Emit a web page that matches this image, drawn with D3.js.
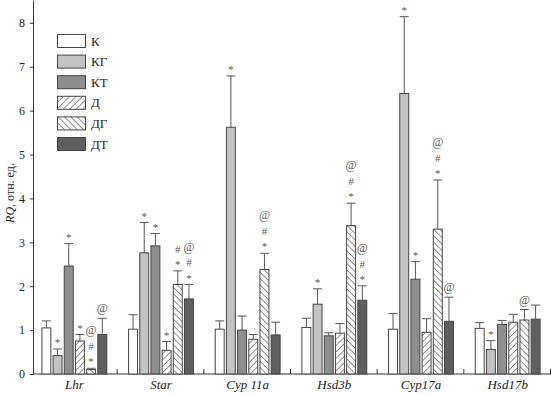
<!DOCTYPE html>
<html>
<head>
<meta charset="utf-8">
<script src="https://cdn.jsdelivr.net/npm/d3@7"></script>
<style>
  body { margin: 0; background: #fff; }
  svg { display: block; }
</style>
</head>
<body>
<div id="chart"></div>
<script>
// genes on the x axis and experimental groups
const genes = ["Lhr", "Star", "Cyp 11a", "Hsd3b", "Cyp17a", "Hsd17b"];
const groups = ["К", "КГ", "КТ", "Д", "ДГ", "ДТ"];

// mean RQ per group (one value per gene)
const valK  = [1.05, 1.02, 1.02, 1.06, 1.02, 1.04];
const valKG = [0.42, 2.76, 5.62, 1.59, 6.39, 0.56];
const valKT = [2.46, 2.92, 1.00, 0.87, 2.16, 1.13];
const valD  = [0.75, 0.54, 0.79, 0.93, 0.95, 1.18];
const valDG = [0.10, 2.04, 2.38, 3.38, 3.30, 1.23];
const valDT = [0.90, 1.71, 0.89, 1.68, 1.20, 1.25];

// upper error (SEM)
const errK  = [0.16, 0.33, 0.19, 0.21, 0.36, 0.13];
const errKG = [0.15, 0.69, 1.17, 0.35, 1.75, 0.20];
const errKT = [0.51, 0.28, 0.32, 0.07, 0.40, 0.09];
const errD  = [0.15, 0.20, 0.11, 0.22, 0.31, 0.18];
const errDG = [0.03, 0.31, 0.37, 0.51, 1.12, 0.24];
const errDT = [0.37, 0.33, 0.29, 0.33, 0.55, 0.32];

// significance marks, bottom to top
const sigK  = ["", "", "", "", "", ""];
const sigKG = ["*", "*", "*", "*", "*", "*"];
const sigKT = ["*", "*", "", "", "*", ""];
const sigD  = ["*", "*", "", "", "", ""];
const sigDG = ["*#@", "*#", "*#@", "*#@", "*#@", "@"];
const sigDT = ["@", "*#@", "", "*#@", "@", ""];

const yTicks = [0, 1, 2, 3, 4, 5, 6, 7, 8];

const values = [valK, valKG, valKT, valD, valDG, valDT];
const errors = [errK, errKG, errKT, errD, errDG, errDT];
const sigs = [sigK, sigKG, sigKT, sigD, sigDG, sigDT];

const width = 551;
const height = 394;
const fills = ["#ffffff", "#c3c3c3", "#8e8e8e", "url(#hatchF)", "url(#hatchB)", "#5f5f5f"];
const serif = "'Liberation Serif', 'DejaVu Serif', serif";

// flatten into one record per bar
const bars = [];
genes.forEach((g, gi) => {
  groups.forEach((grp, k) => {
    bars.push({ gene: g, group: grp, k: k, value: values[k][gi], err: errors[k][gi], sig: sigs[k][gi] });
  });
});

const svg = d3.select("#chart")
  .append("svg")
  .attr("width", width)
  .attr("height", height)
  .style("font-family", serif);

// hatch patterns
const defs = svg.append("defs");
[["hatchF", 45], ["hatchB", -45]].forEach(([id, angle]) => {
  const p = defs.append("pattern")
    .attr("id", id)
    .attr("patternUnits", "userSpaceOnUse")
    .attr("width", 4.5)
    .attr("height", 4.5)
    .attr("patternTransform", `rotate(${angle})`);
  p.append("rect").attr("width", 4.5).attr("height", 4.5).attr("fill", "#fff");
  p.append("line")
    .attr("x1", 0).attr("y1", 0).attr("x2", 0).attr("y2", 4.5)
    .attr("stroke", "#333").attr("stroke-width", 1.1);
});

// scales
const x0 = d3.scaleBand().domain(genes).range([31, 551]);
const x1 = d3.scaleBand().domain(groups).range([0, x0.bandwidth()])
  .paddingInner(0.11).paddingOuter(0.93);
const y = d3.scaleLinear().domain([0, 8.52]).range([374, 0]);

// y axis
const yAxis = svg.append("g")
  .attr("transform", "translate(33,0)")
  .call(d3.axisLeft(y).tickValues(yTicks).tickSize(3).tickSizeOuter(0).tickFormat(d3.format("d")));
yAxis.select(".domain").attr("stroke", "#333");
yAxis.selectAll(".tick line").attr("stroke", "#333");
yAxis.selectAll(".tick text")
  .attr("font-family", serif)
  .attr("font-size", 12)
  .attr("fill", "#222")
  .attr("x", -8);

// x baseline and group separators
svg.append("line")
  .attr("x1", 33).attr("x2", width)
  .attr("y1", y(0)).attr("y2", y(0))
  .attr("stroke", "#333");
svg.selectAll(".sep")
  .data(genes.slice(1).concat(["end"]))
  .enter()
  .append("line")
  .attr("x1", (d, i) => x0.range()[0] + (i + 1) * x0.step() - 0.5)
  .attr("x2", (d, i) => x0.range()[0] + (i + 1) * x0.step() - 0.5)
  .attr("y1", y(0)).attr("y2", y(0) - 5)
  .attr("stroke", "#333");

// gene labels
svg.selectAll(".gene")
  .data(genes)
  .enter()
  .append("text")
  .attr("x", d => x0(d) + x0.bandwidth() / 2)
  .attr("y", 389)
  .attr("text-anchor", "middle")
  .attr("font-size", 13)
  .attr("font-style", "italic")
  .attr("fill", "#222")
  .text(d => d);

// bars
const barG = svg.append("g");
barG.selectAll("rect")
  .data(bars)
  .enter()
  .append("rect")
  .attr("x", d => x0(d.gene) + x1(d.group) + 0.5)
  .attr("y", d => y(d.value))
  .attr("width", x1.bandwidth() - 1)
  .attr("height", d => y(0) - y(d.value))
  .attr("fill", d => fills[d.k])
  .attr("stroke", "#444")
  .attr("stroke-width", 1);

// error bars
const errG = svg.append("g").attr("stroke", "#555").attr("stroke-width", 1);
bars.forEach(d => {
  const cx = x0(d.gene) + x1(d.group) + x1.bandwidth() / 2;
  const top = y(d.value + d.err);
  errG.append("line")
    .attr("x1", cx).attr("x2", cx)
    .attr("y1", y(d.value)).attr("y2", top);
  errG.append("line")
    .attr("x1", cx - x1.bandwidth() / 2 + 0.5).attr("x2", cx + x1.bandwidth() / 2 - 0.5)
    .attr("y1", top).attr("y2", top);
});

// significance marks stacked above the error bar
const gap = { "*": 11, "#": 12, "@": 16 };
bars.filter(d => d.sig).forEach(d => {
  const cx = x0(d.gene) + x1(d.group) + x1.bandwidth() / 2;
  let pos = y(d.value + d.err);
  d.sig.split("").forEach((s, i) => {
    pos -= (i === 0 ? 10 : gap[s]);
    svg.append("text")
      .attr("x", cx)
      .attr("y", pos)
      .attr("dy", s === "*" ? "0.65em" : "0.35em")
      .attr("text-anchor", "middle")
      .attr("font-size", s === "@" ? 12 : 11)
      .attr("fill", "#555")
      .text(s);
  });
});

// y label
const yLab = svg.append("text")
  .attr("transform", "translate(14,193) rotate(-90)")
  .attr("text-anchor", "middle")
  .attr("font-size", 12)
  .attr("fill", "#222");
yLab.append("tspan").attr("font-style", "italic").text("RQ");
yLab.append("tspan").text(", отн. ед.");

// legend
const legend = svg.append("g").attr("transform", "translate(57,34)");
const item = legend.selectAll(".item")
  .data(groups)
  .enter()
  .append("g")
  .attr("transform", (d, i) => `translate(0, ${i * 20.6})`);
item.append("rect")
  .attr("x", 0.5).attr("y", 0.5)
  .attr("width", 28).attr("height", 13)
  .attr("fill", (d, i) => fills[i])
  .attr("stroke", "#444");
item.append("text")
  .attr("x", 34)
  .attr("y", 11.5)
  .attr("font-size", 13)
  .attr("fill", "#222")
  .text(d => d);
</script>
</body>
</html>
